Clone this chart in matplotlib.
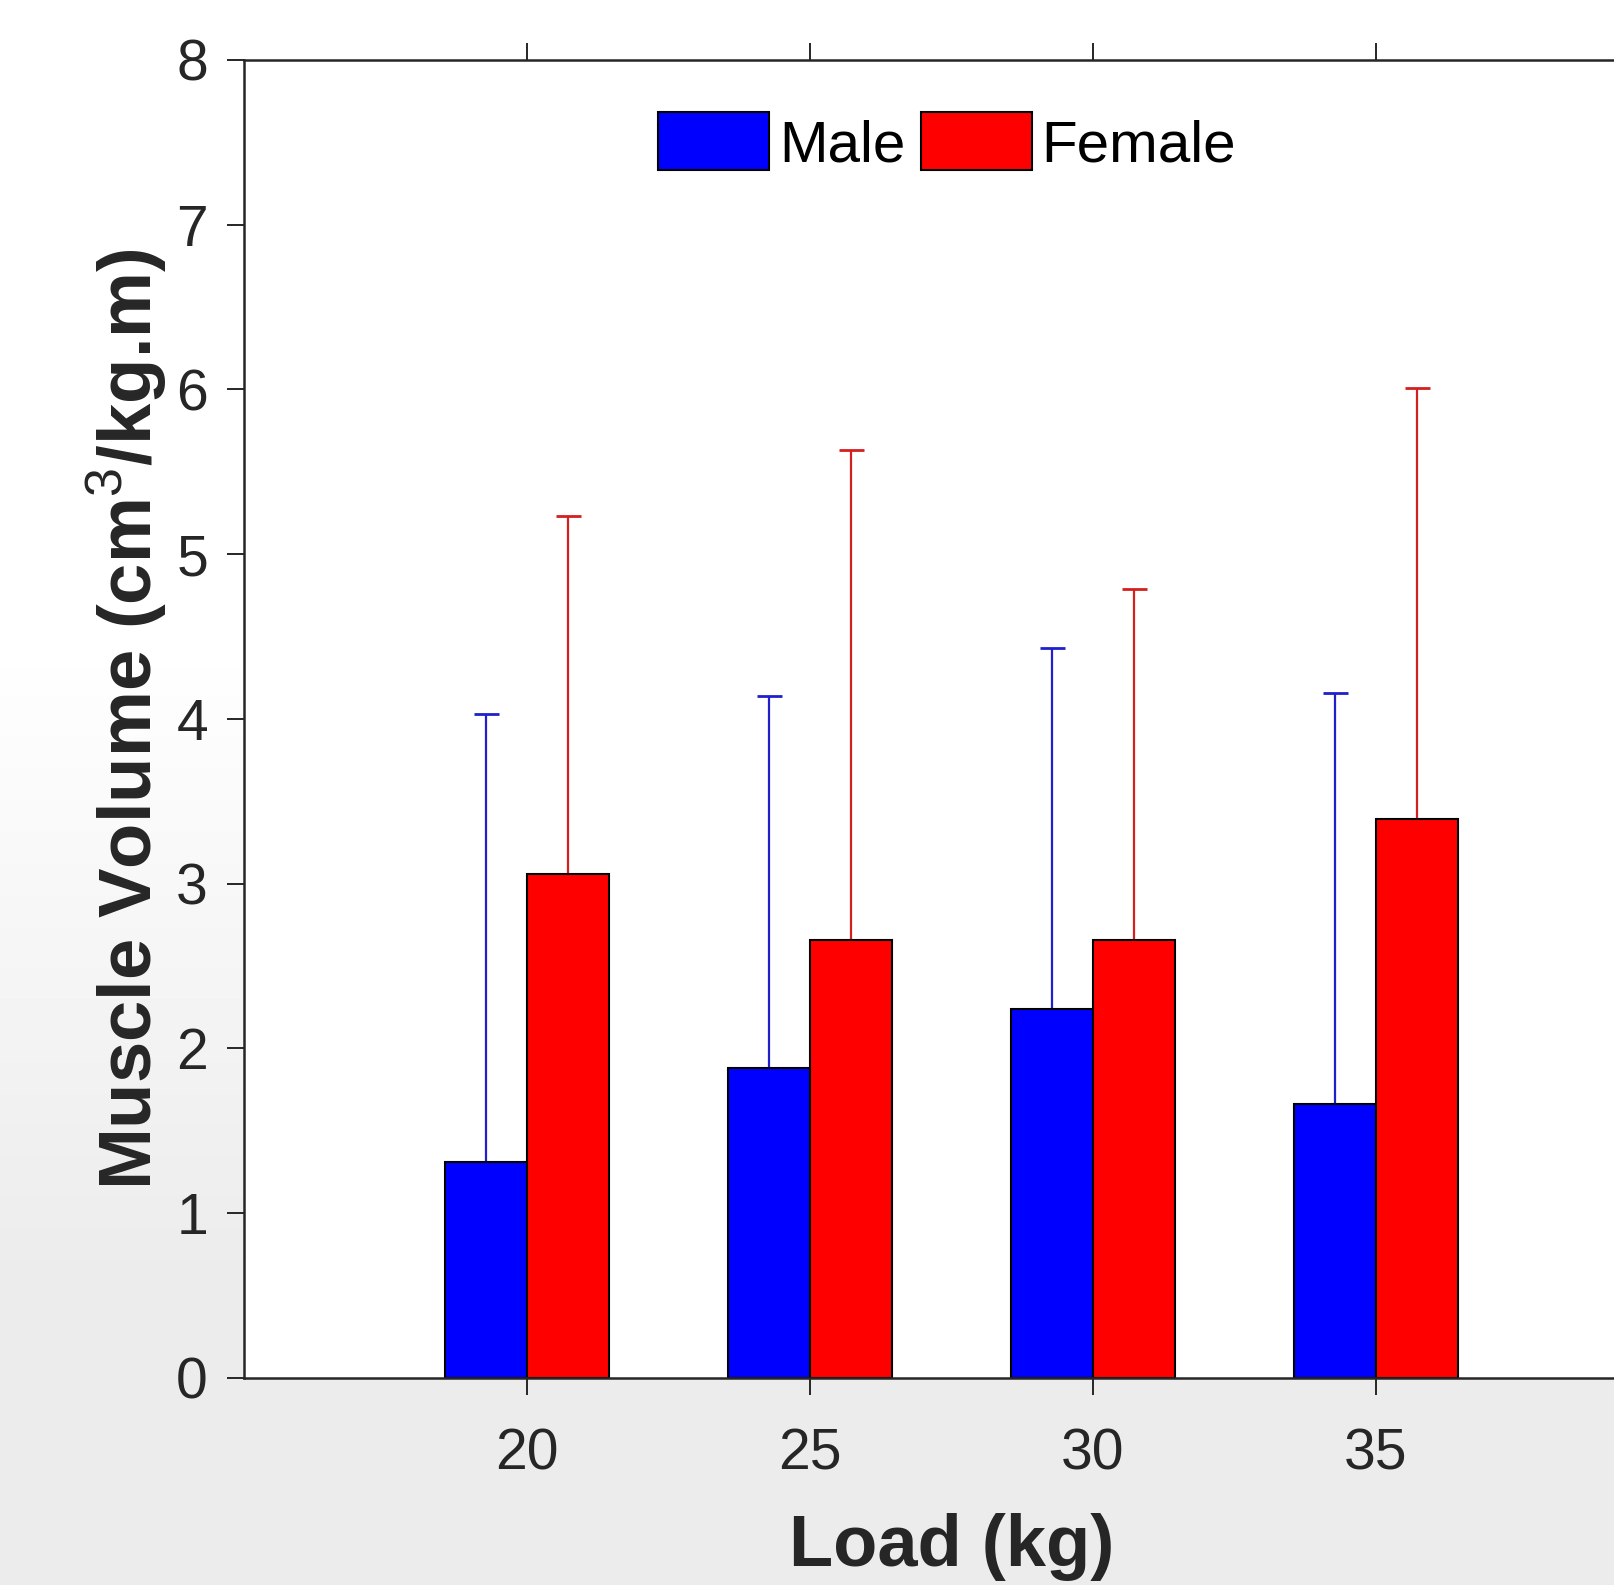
import numpy as np
import matplotlib
matplotlib.use("Agg")
import matplotlib.pyplot as plt

plt.rcParams['font.family'] = ['Liberation Sans', 'DejaVu Sans']
plt.rcParams['mathtext.fontset'] = 'custom'
plt.rcParams['mathtext.rm'] = 'Liberation Sans'
plt.rcParams['mathtext.bf'] = 'Liberation Sans:bold'

loads = [20, 25, 30, 35]
tick_labels = ['20', '25', '30', '35']
male_mean = [1.31, 1.88, 2.24, 1.66]
male_err = [2.72, 2.26, 2.19, 2.50]      # upper error (top at ~4.03, 4.14, 4.43, 4.16)
female_mean = [3.06, 2.66, 2.66, 3.39]
female_err = [2.17, 2.97, 2.13, 2.62]    # upper error (top at ~5.23, 5.63, 4.79, 6.01)
series_names = ['Male', 'Female']

fig = plt.figure(figsize=(16.15, 15.85), dpi=100)

# faint grey background (photo-like backdrop in reference)
bg = fig.add_axes([0, 0, 1, 1], zorder=-10)
yy = np.linspace(0, 1, 200)[:, None]
grad = np.clip((yy - 0.40) / 0.40, 0, 1) * 0.075
img = 1 - grad * np.ones((1, 50))
bg.imshow(img, cmap='gray', vmin=0, vmax=1, aspect='auto', extent=[0, 1, 1, 0])
bg.axis('off')

ax = fig.add_axes([0.1511, 0.1306, 0.8761, 0.8317])
ax.set_facecolor('white')

x = np.array(loads, dtype=float)
w = 1.45
off = w / 2
ax.bar(x - off, male_mean, width=w, color=(0, 0, 1), edgecolor='black', linewidth=1.5,
       label=series_names[0], zorder=2)
ax.bar(x + off, female_mean, width=w, color=(1, 0, 0), edgecolor='black', linewidth=1.5,
       label=series_names[1], zorder=2)
ax.errorbar(x - off, male_mean, yerr=[np.zeros(4), male_err], fmt='none',
            ecolor='#1f1fcc', elinewidth=1.6, capsize=9, capthick=2, zorder=1)
ax.errorbar(x + off, female_mean, yerr=[np.zeros(4), female_err], fmt='none',
            ecolor='#d41f1f', elinewidth=1.6, capsize=9, capthick=2, zorder=1)

ax.set_xlim(15, 40)
ax.set_ylim(0, 8)
ax.set_xticks(loads)
ax.set_xticklabels(tick_labels)
ax.set_yticks(range(0, 9))

ax.tick_params(axis='both', which='both', direction='out', labelsize=41,
               labelcolor='#262626', color='#262626', width=1.4)
ax.tick_params(axis='x', length=12, pad=24, top=True)
ax.tick_params(axis='y', length=12, pad=14)

for s in ['left', 'bottom', 'top']:
    ax.spines[s].set_linewidth(1.8)
    ax.spines[s].set_color('#262626')
ax.spines['right'].set_visible(False)

ax.set_xlabel('Load (kg)', fontsize=52, fontweight='bold', color='#262626', labelpad=22)
ax.set_ylabel('Muscle Volume (cm$^{3}$/kg.m)', fontsize=53.5, fontweight='bold',
              color='#262626', labelpad=5)

leg = ax.legend(loc='center', bbox_to_anchor=(0.497, 0.937), ncol=2, frameon=False,
                fontsize=42, handlelength=1.9, handleheight=1.15, handletextpad=0.17,
                columnspacing=0.27, borderpad=0)
for t in leg.get_texts():
    t.set_color('black')

fig.savefig('out.png', dpi=100)
